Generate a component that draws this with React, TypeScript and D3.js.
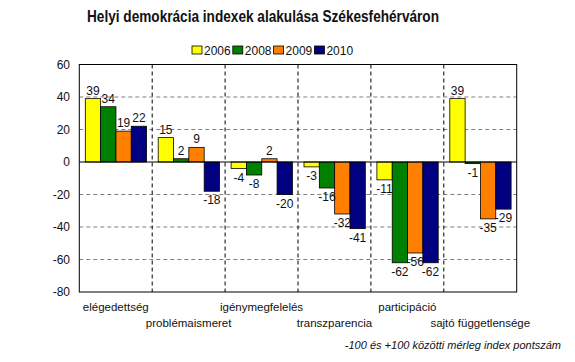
import React from "react";
import * as d3 from "d3";

const categories = [
  "elégedettség",
  "problémaismeret",
  "igénymegfelelés",
  "transzparencia",
  "participáció",
  "sajtó függetlensége",
];
const years = ["2006", "2008", "2009", "2010"];
const values2006 = [39, 15, -4, -3, -11, 39];
const values2008 = [34, 2, -8, -16, -62, -1];
const values2009 = [19, 9, 2, -32, -56, -35];
const values2010 = [22, -18, -20, -41, -62, -29];
const yTicks = [60, 40, 20, 0, -20, -40, -60, -80];
const colors = ["#ffff00", "#008000", "#ff8000", "#000080"];

const series = [values2006, values2008, values2009, values2010];

const width = 575;
const height = 362;
const font = "'Liberation Sans', Arial, sans-serif";

const App = () => {
  // plot area
  const left = 79.3;
  const right = 516.7;
  const top = 64.5;
  const bottom = 292;

  const x0 = d3.scaleBand().domain(categories).range([left, right]).padding(0);
  const x1 = d3
    .scaleBand()
    .domain(years)
    .range([6, 6 + 61.3])
    .padding(0);
  const y = d3.scaleLinear().domain([-80, 60]).range([bottom, top]);

  return (
    <svg
      width={width}
      height={height}
      style={{ position: "absolute", left: 0, top: 0, background: "#fff" }}
    >
      {/* Title, condensed like Arial Narrow */}
      <text
        x={87}
        y={22}
        textLength={352}
        lengthAdjust="spacingAndGlyphs"
        fontFamily={font}
        fontWeight="bold"
        fontSize={17}
        fill="#111"
      >
        Helyi demokrácia indexek alakulása Székesfehérváron
      </text>

      {/* Legend */}
      {years.map((yr, i) => (
        <g key={yr} transform={`translate(${192 + i * 40.8}, 46)`}>
          <rect width={10} height={8} fill={colors[i]} stroke="#000" strokeWidth={0.8} />
          <text x={12} y={8.5} fontFamily={font} fontSize={12} fill="#111">
            {yr}
          </text>
        </g>
      ))}

      {/* Horizontal gridlines */}
      {yTicks
        .filter((t) => t !== 0 && t !== 60 && t !== -80)
        .map((t) => (
          <line
            key={t}
            x1={left}
            x2={right}
            y1={y(t)}
            y2={y(t)}
            stroke="#808080"
            strokeWidth={1.2}
            strokeDasharray="4,3"
          />
        ))}

      {/* Vertical dividers */}
      {categories.slice(1).map((c) => (
        <line
          key={c}
          x1={x0(c)}
          x2={x0(c)}
          y1={top}
          y2={bottom}
          stroke="#000"
          strokeWidth={1}
          strokeDasharray="4,3"
        />
      ))}

      {/* Bars */}
      {categories.map((c, ci) =>
        series.map((vals, si) => {
          const v = vals[ci];
          const bx = (x0(c) as number) + (x1(years[si]) as number);
          const bw = x1.bandwidth();
          return (
            <rect
              key={c + si}
              x={bx}
              y={Math.min(y(v), y(0))}
              width={bw}
              height={Math.abs(y(v) - y(0))}
              fill={colors[si]}
              stroke="#000"
              strokeWidth={0.8}
            />
          );
        })
      )}

      {/* Zero line */}
      <line x1={left} x2={right} y1={y(0)} y2={y(0)} stroke="#000" strokeWidth={1} />

      {/* Plot border */}
      <rect
        x={left}
        y={top}
        width={right - left}
        height={bottom - top}
        fill="none"
        stroke="#000"
        strokeWidth={1}
      />

      {/* Value labels */}
      {categories.map((c, ci) =>
        series.map((vals, si) => {
          const v = vals[ci];
          const cx = (x0(c) as number) + (x1(years[si]) as number) + x1.bandwidth() / 2;
          const ly = v >= 0 ? y(v) - 4 : y(v) + 13;
          return (
            <text
              key={"l" + c + si}
              x={cx}
              y={ly}
              textAnchor="middle"
              fontFamily={font}
              fontSize={12}
              fill="#111"
            >
              {v}
            </text>
          );
        })
      )}

      {/* Y axis labels */}
      {yTicks.map((t) => (
        <text
          key={"y" + t}
          x={70}
          y={y(t) + 4}
          textAnchor="end"
          fontFamily={font}
          fontSize={12}
          fill="#111"
        >
          {t}
        </text>
      ))}

      {/* Category labels */}
      {categories.map((c, ci) => (
        <text
          key={"c" + c}
          x={(x0(c) as number) + x0.bandwidth() / 2}
          y={ci % 2 === 0 ? 311 : 327}
          textAnchor="middle"
          fontFamily={font}
          fontSize={11.5}
          fill="#111"
        >
          {c}
        </text>
      ))}

      {/* Footnote */}
      <text
        x={561}
        y={349}
        textAnchor="end"
        fontFamily={font}
        fontStyle="italic"
        fontSize={11}
        fill="#111"
      >
        -100 és +100 közötti mérleg index pontszám
      </text>
    </svg>
  );
};

export default App;
